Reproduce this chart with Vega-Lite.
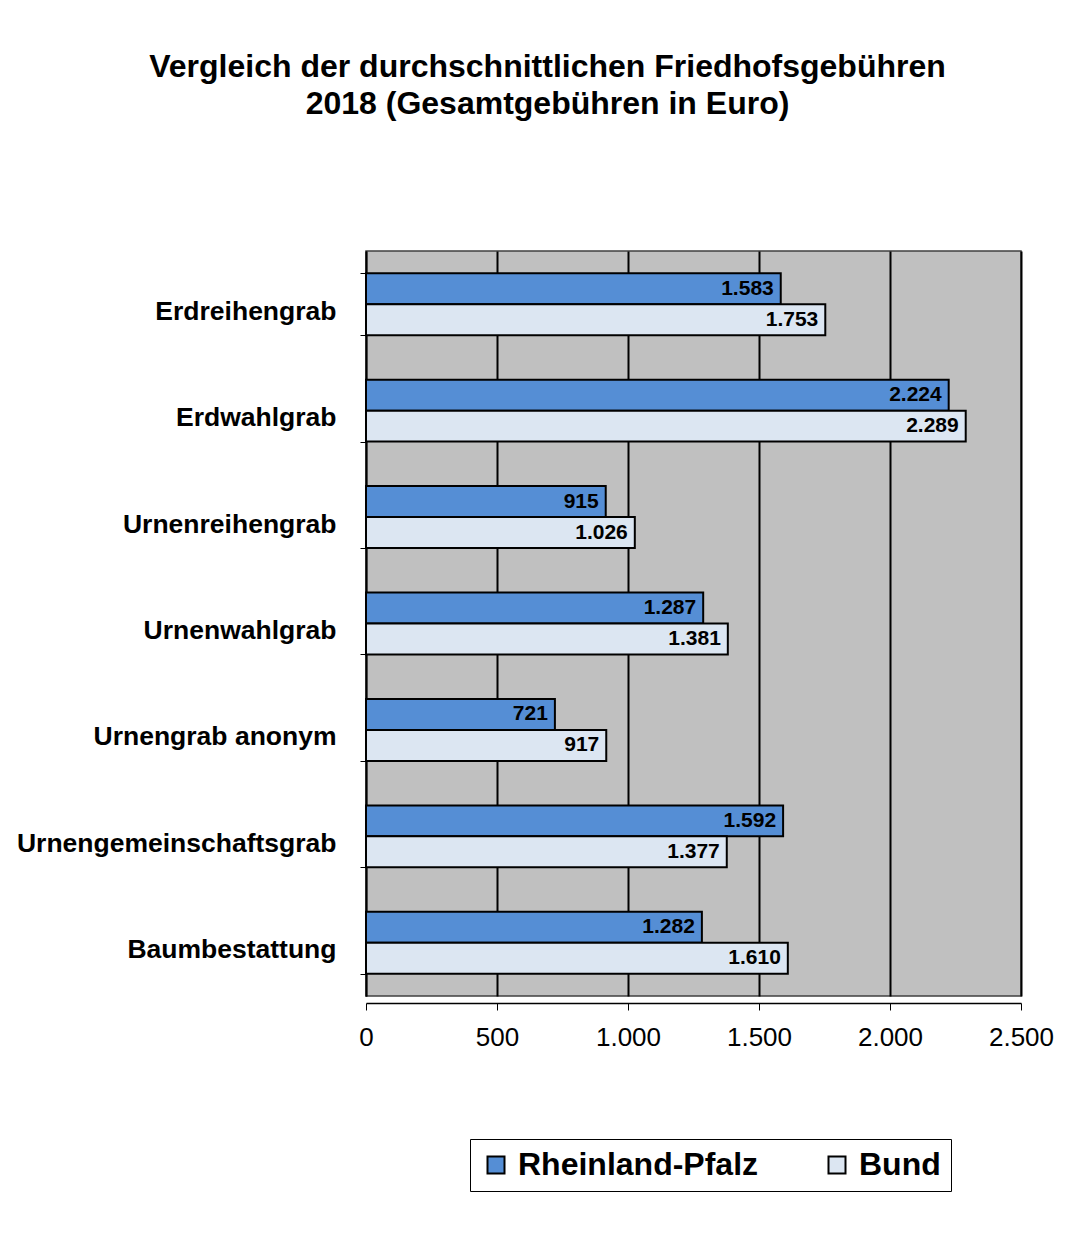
{
  "$schema": "https://vega.github.io/schema/vega-lite/v6.json",
  "autosize": "none",
  "width": 655,
  "height": 745,
  "padding": {"left": 366, "top": 251, "right": 67, "bottom": 260},
  "background": "white",
  "config": {
    "locale": {"number": {"decimal": ",", "thousands": ".", "grouping": [3], "currency": ["", " €"]}},
    "font": "Liberation Sans",
    "view": {"fill": "#c0c0c0", "stroke": "#404040", "strokeWidth": 1.5}
  },
  "title": {
    "text": ["Vergleich der durchschnittlichen Friedhofsgebühren", "2018 (Gesamtgebühren in Euro)"],
    "font": "Liberation Sans",
    "fontSize": 32,
    "fontWeight": "bold",
    "lineHeight": 37,
    "anchor": "middle",
    "frame": "group",
    "dx": -146,
    "offset": 117,
    "color": "black"
  },
  "data": {
    "values": [
      {"kategorie": "Erdreihengrab", "serie": "Rheinland-Pfalz", "wert": 1583},
      {"kategorie": "Erdreihengrab", "serie": "Bund", "wert": 1753},
      {"kategorie": "Erdwahlgrab", "serie": "Rheinland-Pfalz", "wert": 2224},
      {"kategorie": "Erdwahlgrab", "serie": "Bund", "wert": 2289},
      {"kategorie": "Urnenreihengrab", "serie": "Rheinland-Pfalz", "wert": 915},
      {"kategorie": "Urnenreihengrab", "serie": "Bund", "wert": 1026},
      {"kategorie": "Urnenwahlgrab", "serie": "Rheinland-Pfalz", "wert": 1287},
      {"kategorie": "Urnenwahlgrab", "serie": "Bund", "wert": 1381},
      {"kategorie": "Urnengrab anonym", "serie": "Rheinland-Pfalz", "wert": 721},
      {"kategorie": "Urnengrab anonym", "serie": "Bund", "wert": 917},
      {"kategorie": "Urnengemeinschaftsgrab", "serie": "Rheinland-Pfalz", "wert": 1592},
      {"kategorie": "Urnengemeinschaftsgrab", "serie": "Bund", "wert": 1377},
      {"kategorie": "Baumbestattung", "serie": "Rheinland-Pfalz", "wert": 1282},
      {"kategorie": "Baumbestattung", "serie": "Bund", "wert": 1610}
    ]
  },
  "encoding": {
    "y": {
      "field": "kategorie",
      "type": "nominal",
      "sort": null,
      "title": null,
      "scale": {"paddingInner": 0.418, "paddingOuter": 0.209},
      "axis": {
        "labelFont": "Liberation Sans",
        "labelFontSize": 26.5,
        "labelFontWeight": "bold",
        "labelColor": "black",
        "labelPadding": 24,
        "labelOffset": 7,
        "tickBand": "extent",
        "tickSize": 6,
        "tickColor": "black",
        "domainColor": "black",
        "domainWidth": 1.5,
        "labelLimit": 400
      }
    },
    "yOffset": {
      "field": "serie",
      "type": "nominal",
      "sort": ["Rheinland-Pfalz", "Bund"]
    },
    "x": {
      "field": "wert",
      "type": "quantitative",
      "title": null,
      "scale": {"domain": [0, 2500], "nice": false},
      "axis": {
        "values": [0, 500, 1000, 1500, 2000, 2500],
        "format": ",d",
        "labelFlush": false,
        "labelFont": "Liberation Sans",
        "labelFontSize": 26,
        "labelColor": "black",
        "labelPadding": 14,
        "tickSize": 7,
        "tickColor": "black",
        "domainColor": "black",
        "domainWidth": 1.5,
        "offset": 7,
        "grid": true,
        "gridColor": "black",
        "gridWidth": 2,
        "gridOpacity": 1
      }
    }
  },
  "layer": [
    {
      "mark": {"type": "bar", "stroke": "black", "strokeWidth": 2},
      "encoding": {
        "color": {
          "field": "serie",
          "type": "nominal",
          "scale": {"domain": ["Rheinland-Pfalz", "Bund"], "range": ["#558ED5", "#DCE6F2"]},
          "legend": {
            "title": null,
            "orient": "none",
            "direction": "horizontal",
            "legendX": 104,
            "legendY": 888,
            "fillColor": "white",
            "strokeColor": "black",
            "padding": 10,
            "labelFont": "Liberation Sans",
            "labelFontSize": 32,
            "labelFontWeight": "bold",
            "labelColor": "black",
            "labelOffset": 6,
            "columnPadding": 62,
            "symbolType": "square",
            "symbolSize": 289,
            "symbolStrokeColor": "black",
            "symbolStrokeWidth": 2,
            "symbolOpacity": 1,
            "labelLimit": 400
          }
        }
      }
    },
    {
      "mark": {"type": "text", "align": "right", "baseline": "middle", "dx": -7, "fontSize": 21, "fontWeight": "bold", "font": "Liberation Sans", "color": "black"},
      "encoding": {
        "text": {"field": "wert", "type": "quantitative", "format": ",d"}
      }
    }
  ]
}
